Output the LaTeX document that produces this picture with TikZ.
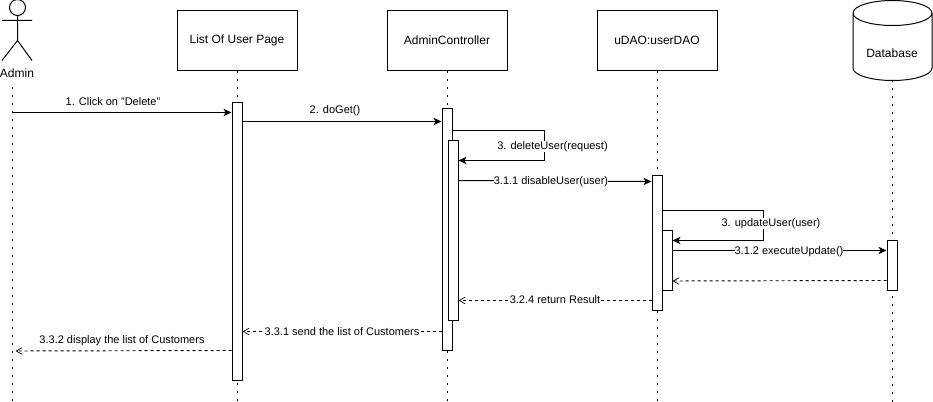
\documentclass[tikz,border=0pt]{standalone}
\usepackage{fontspec}
\setmainfont{Liberation Sans}
\usetikzlibrary{arrows.meta}
\definecolor{ink}{HTML}{000000}
\tikzset{
  objbox/.style={draw=ink,line width=.75pt,fill=white,minimum width=90pt,minimum height=45pt,
                 inner sep=0pt,font=\fontsize{9}{11}\selectfont},
  actbar/.style={draw=ink,line width=.75pt,fill=white,minimum width=7.5pt,inner sep=0pt},
  lifeline/.style={draw=ink,line width=1.4pt,dash pattern=on 1.4pt off 4.6pt},
  msg/.style={draw=ink,line width=.75pt,-{Stealth[length=6pt,width=5.5pt,inset=1.6pt]}},
  reply/.style={draw=ink,line width=.7pt,dash pattern=on 2.25pt off 2.25pt,
                -{Straight Barb[length=4.5pt,width=5pt,line width=.5pt]}},
  msglabel/.style={fill=white,inner sep=0pt,font=\fontsize{8.25}{10}\selectfont},
}
\begin{document}
\begin{tikzpicture}[x=.75pt,y=-.75pt]
  \useasboundingbox (0,-.5) rectangle (933,401.5);

  % actor
  \node[draw=ink,line width=.75pt,circle,minimum size=12pt,inner sep=0pt] (head) at (17.5,7) {};
  \coordinate (neck) at (17.5,40);
  \draw[ink,line width=.75pt] (head.south) -- (neck) -- (2,60) (neck) -- (32,60) (2,20) -- (32,20);
  \node[font=\fontsize{9}{11}\selectfont,inner sep=0pt] (admin) at (17,73) {Admin};

  % objects
  \node[objbox] (listpage) at (237,40) {List Of User Page};
  \node[objbox] (controller) at (447,40) {AdminController};
  \node[objbox] (udao) at (657,40) {uDAO:userDAO};
  \draw[ink,line width=.75pt] (853,12.5) arc[start angle=180,end angle=-180,x radius=39.5,y radius=12.5]
    (853,12.5) -- (853,67.5) arc[start angle=180,end angle=0,x radius=39.5,y radius=12.5] -- (932,12.5);
  \coordinate (database) at (892.5,80);
  \node[font=\fontsize{9}{11}\selectfont,inner sep=0pt] (dblabel) at (892,53) {Database};

  % lifelines
  \coordinate (adminend) at (12.5,402);
  \coordinate (listend) at (237.5,402);
  \coordinate (ctrlend) at (447.5,402);
  \coordinate (daoend) at (657.5,402);
  \coordinate (dbend) at (892.5,402);
  \draw[lifeline] (12.5,87) -- (adminend);
  \draw[lifeline] (listpage.south -| listend) -- (listend);
  \draw[lifeline] (controller.south -| ctrlend) -- (ctrlend);
  \draw[lifeline] (udao.south -| daoend) -- (daoend);
  \draw[lifeline] (database) -- (dbend);

  % activations
  \node[actbar,minimum height=208.5pt] (listbar) at (237,241) {};
  \node[actbar,minimum height=181.5pt] (ctrlbar) at (447,229) {};
  \node[actbar,minimum height=135pt] (ctrlinner) at (453,230) {};
  \node[actbar,minimum height=101.25pt] (daobar) at (657,242.5) {};
  \node[actbar,minimum height=45pt] (daoinner) at (667,260) {};
  \node[actbar,minimum height=37.5pt] (dbbar) at (892,265) {};

  % messages
  \coordinate (ctrlturn) at (544,160);
  \coordinate (daoturn) at (763,240);
  \draw[msg] (12.5,112) -- (listbar.west |- 0,112);
  \draw[msg] (listbar.east |- 0,121) -- (ctrlbar.west |- 0,121);
  \draw[msg] (ctrlbar.east |- 0,130) -| (ctrlturn) -- (ctrlinner.east |- ctrlturn);
  \draw[msg] (ctrlinner.east |- 0,180) -- (daobar.west |- 0,181);
  \draw[msg] (daobar.east |- 0,210) -| (daoturn) -- (daoinner.east |- daoturn);
  \draw[msg] (daoinner.east |- 0,250) -- (dbbar.west |- 0,250);
  \draw[reply] (dbbar.west |- 0,280) -- (daoinner.east |- 0,280.5);
  \draw[reply] (daobar.west |- 0,300) -- (ctrlinner.east |- 0,300);
  \draw[reply] (ctrlbar.west |- 0,331) -- (listbar.east |- 0,331);
  \draw[reply] (listbar.west |- 0,350) -- (15.5,350.5);

  % labels
  \node[msglabel] (clicklabel) at (113,101) {1. Click on "Delete"};
  \node[msglabel] (dogetlabel) at (335,110) {2. doGet()};
  \node[msglabel] (deletelabel) at (552.5,146) {3. deleteUser(request)};
  \node[msglabel] (disablelabel) at (551,181) {3.1.1 disableUser(user)};
  \node[msglabel] (updatelabel) at (771,223) {3. updateUser(user)};
  \node[msglabel] (executelabel) at (789,251) {3.1.2 executeUpdate()};
  \node[msglabel] (returnlabel) at (555,299) {3.2.4 return Result};
  \node[msglabel] (sendlabel) at (342,331) {3.3.1 send the list of Customers};
  \node[msglabel] (displaylabel) at (122,340) {3.3.2 display the list of Customers};
\end{tikzpicture}
\end{document}
